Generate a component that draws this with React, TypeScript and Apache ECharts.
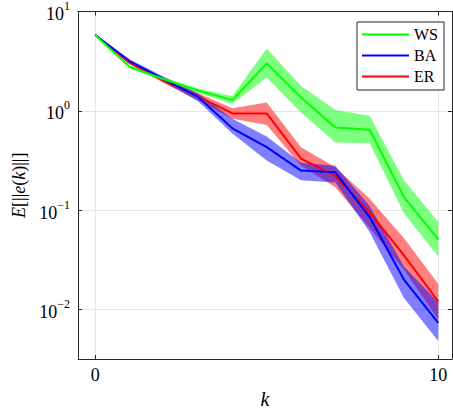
import React, { useEffect, useRef } from "react";
import * as echarts from "echarts";

const ks = [0, 1, 2, 3, 4, 5, 6, 7, 8, 9, 10];

const wsMean = [5.8, 2.78, 2.08, 1.6, 1.28, 3.0, 1.36, 0.68, 0.645, 0.135, 0.0506];
const wsLow = [5.7, 2.7, 2.0, 1.52, 1.18, 2.16, 0.96, 0.48, 0.47, 0.093, 0.034];
const wsHigh = [5.9, 2.86, 2.16, 1.68, 1.4, 4.25, 1.78, 1.02, 0.89, 0.2, 0.076];

const baMean = [5.8, 3.17, 2.08, 1.38, 0.665, 0.43, 0.25, 0.24, 0.085, 0.0199, 0.0073];
const baLow = [5.7, 3.05, 1.95, 1.25, 0.59, 0.315, 0.2, 0.19, 0.06, 0.013, 0.0048];
const baHigh = [5.9, 3.3, 2.2, 1.5, 0.83, 0.55, 0.3, 0.28, 0.11, 0.027, 0.0117];

const erMean = [5.8, 3.05, 2.0, 1.4, 0.94, 0.94, 0.33, 0.22, 0.095, 0.035, 0.012];
const erLow = [5.7, 2.95, 1.9, 1.28, 0.83, 0.72, 0.28, 0.17, 0.066, 0.025, 0.0079];
const erHigh = [5.9, 3.15, 2.1, 1.5, 1.06, 1.21, 0.43, 0.27, 0.13, 0.052, 0.018];

const xTicks = [0, 10];
const yTicks = [0.01, 0.1, 1, 10];

const FONT = "Liberation Serif";
const AXIS_COLOR = "#262626";
const GRID_COLOR = "#e6e6e6";

function band(name: string, low: number[], high: number[], fill: string) {
  return {
    type: "custom",
    name,
    coordinateSystem: "cartesian2d",
    xAxisIndex: 0,
    yAxisIndex: 0,
    silent: true,
    data: ks.map((k, i) => [k, high[i]]),
    renderItem: (params: any, api: any) => {
      if (params.dataIndex !== 0) return null;
      const pts: number[][] = [];
      ks.forEach((k, i) => pts.push(api.coord([k, high[i]])));
      for (let i = ks.length - 1; i >= 0; i--) pts.push(api.coord([ks[i], low[i]]));
      return {
        type: "polygon",
        shape: { points: pts },
        style: { fill, stroke: "none" },
      };
    },
    z: 1,
  };
}

function line(name: string, vals: number[], color: string) {
  return {
    type: "line",
    name,
    xAxisIndex: 0,
    yAxisIndex: 0,
    data: ks.map((k, i) => [k, vals[i]]),
    showSymbol: false,
    symbol: "none",
    lineStyle: { color, width: 2 },
    itemStyle: { color },
    z: 3,
  };
}

function yLabel(v: number) {
  const e = Math.round(Math.log10(v));
  const s = e < 0 ? "\u2212" + -e : String(e);
  return `{b|10}{s|${s}}`;
}

export default function App() {
  const ref = useRef<HTMLDivElement>(null);
  useEffect(() => {
    if (!ref.current) return;
    const chart = echarts.init(ref.current, null, { renderer: "svg" });
    const yMin = Math.pow(10, -2.5);
    const yMax = 10;
    const option: any = {
      animation: false,
      backgroundColor: "#ffffff",
      textStyle: { fontFamily: FONT },
      grid: { left: 78, top: 10, right: 1, bottom: 55, containLabel: false },
      legend: {
        data: [
          { name: "WS", icon: "rect", itemStyle: { color: "#00ff00" } },
          { name: "BA", icon: "rect", itemStyle: { color: "#0000ff" } },
          { name: "ER", icon: "rect", itemStyle: { color: "#ff0000" } },
        ],
        orient: "vertical",
        left: 357,
        top: 22,
        padding: [4, 6, 5, 5],
        itemWidth: 47,
        itemHeight: 2,
        itemGap: 4,
        borderColor: AXIS_COLOR,
        borderWidth: 1,
        backgroundColor: "#ffffff",
        borderRadius: 0,
        textStyle: { fontFamily: FONT, fontSize: 16, color: "#000", lineHeight: 17 },
        selectedMode: false,
      },
      xAxis: [
        {
          type: "value",
          min: -0.5,
          max: 10.4,
          position: "bottom",
          name: "k",
          nameLocation: "middle",
          nameGap: 29,
          nameTextStyle: { fontFamily: FONT, fontSize: 20, fontStyle: "italic", color: "#000" },
          axisLine: { show: true, onZero: false, lineStyle: { color: AXIS_COLOR, width: 1 } },
          axisTick: { show: true, inside: true, length: 4, customValues: xTicks, lineStyle: { color: AXIS_COLOR } },
          axisLabel: { show: true, customValues: xTicks, margin: 7, fontFamily: FONT, fontSize: 18, color: "#000" },
          splitLine: { show: true, lineStyle: { color: GRID_COLOR, width: 1 } },
        },
        {
          type: "value",
          min: -0.5,
          max: 10.4,
          position: "top",
          axisLine: { show: true, onZero: false, lineStyle: { color: AXIS_COLOR, width: 1 } },
          axisTick: { show: true, inside: true, length: 4, customValues: xTicks, lineStyle: { color: AXIS_COLOR } },
          axisLabel: { show: false },
          splitLine: { show: false },
        },
      ],
      yAxis: [
        {
          type: "log",
          logBase: 10,
          min: yMin,
          max: yMax,
          position: "left",
          name: "{i|E}{n|[||}{i|e}{n|(}{i|k}{n|)||]}",
          nameLocation: "middle",
          nameGap: 49,
          nameRotate: 90,
          nameTextStyle: {
            fontFamily: FONT,
            fontSize: 18,
            color: "#000",
            rich: {
              i: { fontFamily: FONT, fontSize: 18, fontStyle: "italic", color: "#000" },
              n: { fontFamily: FONT, fontSize: 18, color: "#000" },
            },
          },
          axisLine: { show: true, onZero: false, lineStyle: { color: AXIS_COLOR, width: 1 } },
          axisTick: { show: true, inside: true, length: 4, customValues: yTicks, lineStyle: { color: AXIS_COLOR } },
          axisLabel: {
            show: true,
            customValues: yTicks,
            margin: 8,
            formatter: yLabel,
            rich: {
              b: { fontFamily: FONT, fontSize: 18, color: "#000", verticalAlign: "bottom", padding: [5, 0, 0, 0] },
              s: { fontFamily: FONT, fontSize: 12, color: "#000", verticalAlign: "top" },
            },
          },
          splitLine: { show: true, lineStyle: { color: GRID_COLOR, width: 1 } },
          minorTick: { show: false },
        },
        {
          type: "log",
          logBase: 10,
          min: yMin,
          max: yMax,
          position: "right",
          axisLine: { show: true, onZero: false, lineStyle: { color: AXIS_COLOR, width: 1 } },
          axisTick: { show: true, inside: true, length: 4, customValues: yTicks, lineStyle: { color: AXIS_COLOR } },
          axisLabel: { show: false },
          splitLine: { show: false },
        },
      ],
      series: [
        band("ER band", erLow, erHigh, "rgba(255,0,0,0.5)"),
        band("BA band", baLow, baHigh, "rgba(0,0,255,0.5)"),
        band("WS band", wsLow, wsHigh, "rgba(0,255,0,0.5)"),
        line("ER", erMean, "#ff0000"),
        line("BA", baMean, "#0000ff"),
        line("WS", wsMean, "#00ff00"),
      ],
    };
    chart.setOption(option);
    return () => chart.dispose();
  }, []);
  return (
    <div
      ref={ref}
      style={{ position: "fixed", left: 0, top: 0, width: 453, height: 414, background: "#fff" }}
    />
  );
}
